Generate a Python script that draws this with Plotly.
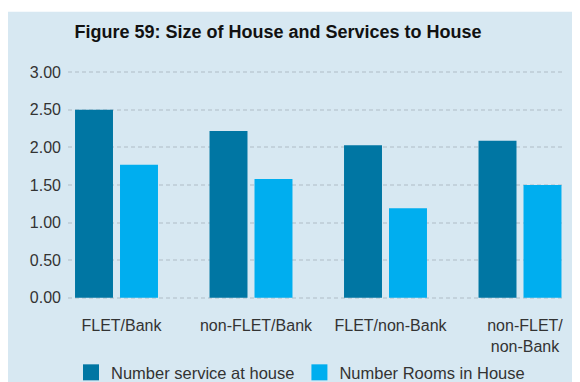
import plotly.graph_objects as go

categories = ["FLET/Bank", "non-FLET/Bank", "FLET/non-Bank", "non-FLET/<br>non-Bank"]
services = [2.50, 2.22, 2.03, 2.09]
rooms = [1.77, 1.58, 1.19, 1.50]
series_names = ["Number service at house", "Number Rooms in House"]
ytick_vals = [0, 0.5, 1.0, 1.5, 2.0, 2.5, 3.0]

DARK = "#0076a3"
LIGHT = "#00aeef"
PANEL = "#d7e8f2"
FONT = "Liberation Sans, Arial, sans-serif"

# page body has an 8px margin, so figure coords = screen coords - 8
W, H = 572, 374
PAD = 0.03
Y0, Y1 = 289.3, 64.3          # figure px of y=0 and y=3
unit = (Y0 - Y1) / 3.0
T = Y1 - PAD * unit
B = H - (Y0 + PAD * unit)
L, R = 60, 15
pw, ph = W - L - R, H - T - B

def px2x(px):
    return (px - L) / pw

def py2y(py):
    return (H - B - py) / ph

fig = go.Figure()
fig.add_trace(go.Bar(x=categories, y=services, name=series_names[0],
                     marker=dict(color=DARK, line=dict(width=0)), showlegend=False))
fig.add_trace(go.Bar(x=categories, y=rooms, name=series_names[1],
                     marker=dict(color=LIGHT, line=dict(width=0)), showlegend=False))
# legend entries
for nm, col in zip(series_names, [DARK, LIGHT]):
    fig.add_trace(go.Scatter(x=[None], y=[None], mode="markers", name=nm,
                             marker=dict(symbol="square", size=16, color=col)))

fig.add_shape(type="rect", xref="paper", yref="paper",
              x0=px2x(0), x1=px2x(W + 2), y0=py2y(H + 2), y1=py2y(4),
              fillcolor=PANEL, line=dict(width=0), layer="below")

fig.update_layout(
    width=W, height=H,
    margin=dict(l=L, r=R, t=T, b=B, pad=0, autoexpand=False),
    paper_bgcolor="white", plot_bgcolor="rgba(0,0,0,0)",
    font=dict(family=FONT, size=16, color="#333333"),
    title=dict(text="<b>Figure 59: Size of House and Services to House</b>",
               x=270 / W, xanchor="center", y=1 - 24 / H, yanchor="middle",
               font=dict(family=FONT, size=18, color="#111111")),
    barmode="group", bargap=0.331, bargroupgap=0.156,
    showlegend=True,
    legend=dict(orientation="h", x=px2x(63), xanchor="left", y=py2y(364), yanchor="middle",
                bgcolor="rgba(0,0,0,0)", font=dict(size=16.5, color="#333333"),
                itemsizing="trace"),
)
fig.update_xaxes(type="category", range=[-0.3606, 3.3346], showgrid=False,
                 showline=False, zeroline=False, ticks="", ticklabelshift=5,
                 ticklabelstandoff=14)
fig.update_yaxes(range=[-PAD, 3 + PAD], tickvals=ytick_vals, tickformat=".2f",
                 showgrid=True, gridcolor="#c3d2dc", gridwidth=1.5, griddash="4px,3px",
                 zeroline=False, showline=False, ticks="", ticklabelstandoff=6)

fig.write_html("out.html")
